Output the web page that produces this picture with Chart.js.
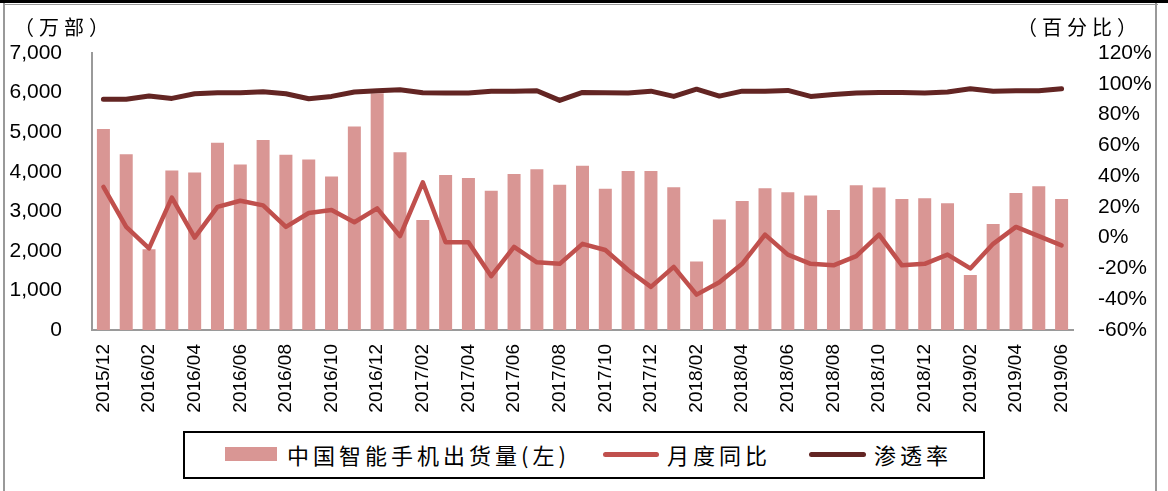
<!DOCTYPE html>
<html>
<head>
<meta charset="utf-8">
<script src="https://cdn.jsdelivr.net/npm/chart.js@4.4.1/dist/chart.umd.min.js"></script>
<style>
  html, body { margin: 0; padding: 0; background: #fff; }
  #wrap { position: relative; width: 1168px; height: 491px; overflow: hidden; background: #fff; }
  #c { position: absolute; left: 0; top: 0; }
  .frame { position: absolute; }
  .ttl { position: absolute; font-family: "Noto Sans CJK SC", sans-serif; font-size: 20px; letter-spacing: 5px; color: #000; white-space: nowrap; line-height: 1; }
  #legend { position: absolute; left: 183px; top: 431px; width: 798px; height: 44px; border: 2px solid #000; background: #fff; }
  .lg-sw { position: absolute; }
  .lg-tx { position: absolute; font-family: "Noto Sans CJK SC", sans-serif; font-size: 22px; letter-spacing: 4px; color: #000; white-space: nowrap; line-height: 1; top: 10px; }
</style>
</head>
<body>
<div id="wrap">
  <canvas id="c" width="1168" height="491"></canvas>
  <div class="frame" style="left:0;top:0;width:1168px;height:3px;background:#000"></div>
  <div class="frame" style="left:3px;top:4px;width:1155px;height:1px;background:#999"></div>
  <div class="frame" style="left:3px;top:3px;width:2px;height:488px;background:#999"></div>
  <div class="frame" style="left:1155px;top:3px;width:2px;height:488px;background:#999"></div>
  <div class="ttl" id="tl" style="left:14px;top:17px">（万部）</div>
  <div class="ttl" id="tr" style="left:1017px;top:17px">（百分比）</div>
  <div id="legend"></div>
</div>
<script>
const categories = [
  "2015/12","2016/01","2016/02","2016/03","2016/04","2016/05","2016/06","2016/07","2016/08","2016/09","2016/10","2016/11","2016/12",
  "2017/01","2017/02","2017/03","2017/04","2017/05","2017/06","2017/07","2017/08","2017/09","2017/10","2017/11","2017/12",
  "2018/01","2018/02","2018/03","2018/04","2018/05","2018/06","2018/07","2018/08","2018/09","2018/10","2018/11","2018/12",
  "2019/01","2019/02","2019/03","2019/04","2019/05","2019/06"
];
const shipments = [5080,4440,2040,4030,3980,4730,4180,4800,4430,4310,3880,5140,5980,4490,2780,3920,3840,3520,3940,4060,3670,4150,3570,4020,4020,3610,1730,2790,3260,3580,3480,3400,3030,3660,3600,3310,3330,3200,1390,2680,3460,3630,3310];
const yoy = [33,7,-7,26,0,20,24,21,7,16,18,10,19,1,36,-3,-3,-25,-6,-16,-17,-4,-8,-21,-32,-19,-37,-29,-17,2,-11,-17,-18,-12,2,-18,-17,-11,-20,-4,7,1,-5];
const penetration = [90,90,92,90.5,93.5,94.2,94.2,94.8,93.5,90.3,91.8,94.7,95.5,96.1,94.2,94,94,95.2,95.2,95.5,89.2,94.4,94.2,94,95.2,91.8,96.5,92,95.2,95.2,95.7,91.8,93,94,94.4,94.4,94,94.7,96.8,95.2,95.5,95.5,96.8];
const leftTicks = [0,1000,2000,3000,4000,5000,6000,7000];
const rightTicks = [-60,-40,-20,0,20,40,60,80,100,120];
const seriesNames = ["中国智能手机出货量(左)","月度同比","渗透率"];

const C_BAR = "#D99694", C_YOY = "#C0504D", C_PEN = "#632523";
const tickFontY = { family: "'Liberation Sans',Arial,sans-serif", size: 21 };
const tickFontX = { family: "'Liberation Sans',Arial,sans-serif", size: 19 };

const chart = new Chart(document.getElementById('c'), {
  data: {
    labels: categories,
    datasets: [
      { type: 'line', label: seriesNames[2], data: penetration, yAxisID: 'y1', borderColor: C_PEN, borderWidth: 5, pointRadius: 0, tension: 0, borderCapStyle: 'round', borderJoinStyle: 'round', order: 0 },
      { type: 'line', label: seriesNames[1], data: yoy, yAxisID: 'y1', borderColor: C_YOY, borderWidth: 4.5, pointRadius: 0, tension: 0, borderCapStyle: 'round', borderJoinStyle: 'round', order: 1 },
      { type: 'bar', label: seriesNames[0], data: shipments, yAxisID: 'y', backgroundColor: C_BAR, borderWidth: 0, categoryPercentage: 1, barPercentage: 0.57, order: 2 }
    ]
  },
  options: {
    responsive: false,
    animation: false,
    devicePixelRatio: 1,
    layout: { padding: { top: 53, left: 0, right: 0, bottom: 0 } },
    plugins: { legend: { display: false }, tooltip: { enabled: false } },
    scales: {
      x: {
        grid: { display: false, drawTicks: false },
        border: { display: true, color: '#9a9a9a', width: 2 },
        ticks: {
          autoSkip: false, maxRotation: 90, minRotation: 90, padding: 14,
          color: '#000', font: tickFontX,
          callback: (v, i) => (i % 2 === 0 ? categories[i] : '')
        },
        afterFit: s => { s.height = 161; }
      },
      y: {
        position: 'left', min: 0, max: 7000,
        afterBuildTicks: s => { s.ticks = leftTicks.map(v => ({ value: v })); },
        grid: { display: false, drawTicks: false },
        border: { display: true, color: '#9a9a9a', width: 2 },
        ticks: { autoSkip: false, padding: 30, color: '#000', font: tickFontY, callback: v => v.toLocaleString('en-US') },
        afterFit: s => { s.width = 92; }
      },
      y1: {
        position: 'right', min: -60, max: 120,
        afterBuildTicks: s => { s.ticks = rightTicks.map(v => ({ value: v })); },
        grid: { display: false, drawTicks: false },
        border: { display: false },
        ticks: { autoSkip: false, padding: 25, color: '#000', font: tickFontY, callback: v => v + '%' },
        afterFit: s => { s.width = 95; }
      }
    }
  }
});

// HTML legend built from dataset labels and colours
const lg = document.getElementById('legend');
const items = [
  { name: seriesNames[0], kind: 'bar', color: C_BAR, sx: 40, sw: 52, tx: 102 },
  { name: seriesNames[1], kind: 'line', color: C_YOY, sx: 418, sw: 56, tx: 482 },
  { name: seriesNames[2], kind: 'line', color: C_PEN, sx: 624, sw: 57, tx: 689 }
];
items.forEach(it => {
  const sw = document.createElement('div');
  sw.className = 'lg-sw';
  sw.style.left = it.sx + 'px';
  sw.style.width = it.sw + 'px';
  sw.style.background = it.color;
  if (it.kind === 'bar') { sw.style.top = '14px'; sw.style.height = '14px'; }
  else { sw.style.top = '19px'; sw.style.height = '5px'; sw.style.borderRadius = '3px'; }
  lg.appendChild(sw);
  const tx = document.createElement('div');
  tx.className = 'lg-tx';
  tx.style.left = it.tx + 'px';
  tx.textContent = it.name;
  lg.appendChild(tx);
});
</script>
</body>
</html>
